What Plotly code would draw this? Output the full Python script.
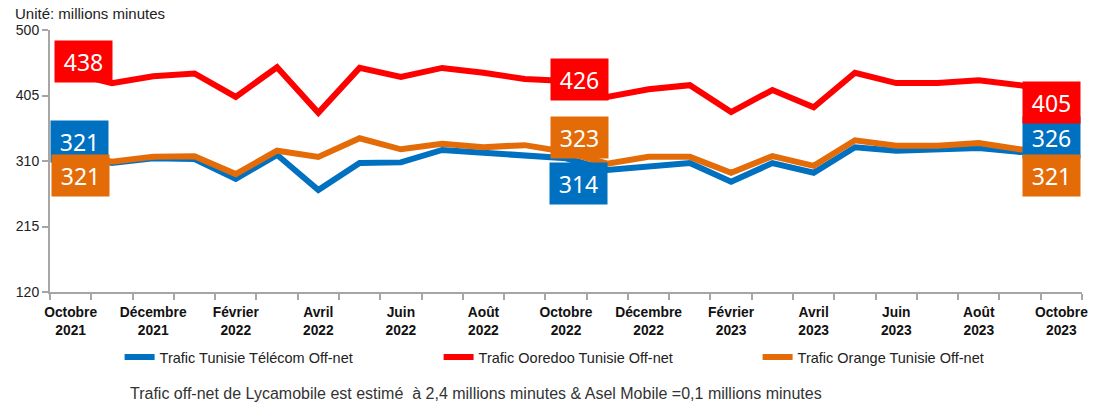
import plotly.graph_objects as go

months = ["Octobre<br>2021", "Novembre<br>2021", "Décembre<br>2021", "Janvier<br>2022",
          "Février<br>2022", "Mars<br>2022", "Avril<br>2022", "Mai<br>2022", "Juin<br>2022",
          "Juillet<br>2022", "Août<br>2022", "Septembre<br>2022", "Octobre<br>2022",
          "Novembre<br>2022", "Décembre<br>2022", "Janvier<br>2023", "Février<br>2023",
          "Mars<br>2023", "Avril<br>2023", "Mai<br>2023", "Juin<br>2023", "Juillet<br>2023",
          "Août<br>2023", "Septembre<br>2023", "Octobre<br>2023"]

tt = [321, 307, 314, 313, 284, 319, 268, 307, 308, 326, 322, 319, 314,
      297, 301, 307, 280, 307, 293, 330, 325, 326, 329, 323, 326]
ooredoo = [438, 423, 433, 437, 403, 446, 380, 445, 432, 445, 438, 429, 426,
           403, 414, 420, 381, 413, 388, 438, 423, 423, 427, 420, 405]
orange = [321, 309, 316, 317, 291, 325, 316, 343, 327, 335, 330, 333, 323,
          306, 316, 316, 293, 317, 303, 340, 332, 332, 336, 327, 321]

names = ["Trafic Tunisie Télécom Off-net", "Trafic Ooredoo Tunisie Off-net",
         "Trafic Orange Tunisie Off-net"]
colors = ["#0070C0", "#FF0000", "#E36C09"]
labelled = [0, 12, 24]

yticks = [120, 215, 310, 405, 500]

x = list(range(len(months)))
fig = go.Figure()
for vals, name, col in zip([tt, ooredoo, orange], names, colors):
    fig.add_trace(go.Scatter(x=x, y=vals, mode="lines", name=name,
                             line=dict(color=col, width=6)))

# data label offsets (pixels) per series for labelled points [Oct21, Oct22, Oct23]
offsets = {
    0: [(9, 12), (12, -25), (-10, 12)],    # blue
    1: [(13, 11), (13, 2), (-10, -7)],     # red
    2: [(10, -22), (13, 15), (-10, -22)],  # orange
}
annos = []
for si in [0, 1, 2]:
    vals = [tt, ooredoo, orange][si]
    for k, i in enumerate(labelled):
        dx, dy = offsets[si][k]
        annos.append(dict(x=i, y=vals[i], xref="x", yref="y", text=str(vals[i]),
                          showarrow=False, xshift=dx, yshift=dy,
                          bgcolor=colors[si], width=57, height=41, borderpad=0,
                          font=dict(family="Noto Sans", size=23, color="white")))

annos.append(dict(x=(128 - 50) / 1038, y=(292 - 393) / 262, xref="paper", yref="paper",
                  xanchor="left", yanchor="middle", showarrow=False,
                  text="Trafic off-net de Lycamobile est estimé  à 2,4 millions minutes & Asel Mobile =0,1 millions minutes",
                  font=dict(family="Liberation Sans", size=16, color="#333333")))

fig.update_layout(
    width=1097, height=404,
    margin=dict(l=50, r=9, t=30, b=112),
    paper_bgcolor="white", plot_bgcolor="white",
    title=dict(text="Unité: millions minutes", x=15 / 1097, xanchor="left",
               y=1 - 14 / 404, yanchor="middle", xref="container", yref="container",
               font=dict(family="Liberation Sans", size=15, color="#222222")),
    showlegend=True,
    legend=dict(orientation="h", x=(120 - 50) / 1038, xanchor="left",
                y=(292 - 357) / 262, yanchor="middle",
                entrywidth=274, entrywidthmode="pixels",
                font=dict(family="Liberation Sans", size=14.5, color="#222222"),
                bgcolor="rgba(0,0,0,0)", traceorder="normal"),
    annotations=annos,
)
fig.update_xaxes(range=[-0.5, 24.5], tickmode="array", tickvals=x[::2],
                 ticktext=months[::2], ticks="", showline=True, linecolor="#A6A6A6",
                 linewidth=2, showgrid=False, zeroline=False, ticklabelstandoff=6,
                 tickfont=dict(family="Liberation Sans", size=13.8, color="#111111",
                               weight="bold"),
                 minor=dict(tickmode="linear", tick0=-0.5, dtick=1, ticks="outside",
                            ticklen=6, tickwidth=2, tickcolor="#A6A6A6", showgrid=False))
fig.update_yaxes(range=[120, 500], tickmode="array", tickvals=yticks, ticks="outside",
                 ticklen=6, tickwidth=2, tickcolor="#A6A6A6", showline=True,
                 linecolor="#A6A6A6", linewidth=2, showgrid=False, zeroline=False,
                 tickfont=dict(family="Liberation Sans", size=14, color="#222222"))

fig.write_html("out.html")
